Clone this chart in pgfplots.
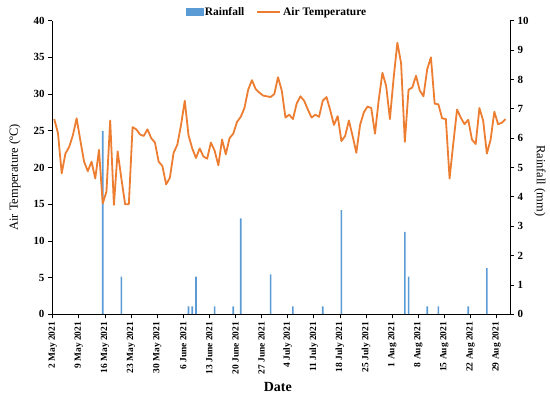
\documentclass[border=0pt]{standalone}
\usepackage{fontspec}
\setmainfont{Liberation Serif}
\usepackage{pgfplots}
\pgfplotsset{compat=1.18}
\definecolor{rainblue}{HTML}{5B9BD5}
\definecolor{temporange}{HTML}{ED7D31}
\begin{document}
\begin{tikzpicture}
\path[use as bounding box] (-52bp,-86.7bp) rectangle (498bp,314.3bp);
\pgfplotsset{
  common/.style={
    scale only axis, width=458bp, height=293.6bp,
    xmin=-0.2, xmax=122.6,
    at={(0,0)}, anchor=south west,
    axis line style={-, line width=0.9pt, black},
    tick style={line width=0.8pt, black},
    tick align=outside, major tick length=4bp,
    /pgf/number format/assume math mode=true,
    yticklabel style={font=\bfseries\fontsize{11}{12}\selectfont},
  }
}
\begin{axis}[common,
  hide x axis,
  axis y line*=right,
  ymin=0, ymax=10, ytick={0,1,...,10},
  ylabel={Rainfall (mm)},
  every axis y label/.style={at={(axis description cs:1.0655,0.455)}, anchor=center, rotate=-90, font=\fontsize{12.5}{14}\selectfont},
]
\addplot[ybar, bar width=1.6bp, bar shift=0pt, fill=rainblue, draw=none] coordinates {
(13.4,6.25) (18.4,1.28) (36.4,0.27) (37.4,0.27) (38.4,1.28) (43.4,0.27)
(48.4,0.27) (50.4,3.27) (58.4,1.36) (64.4,0.27) (72.4,0.27) (77.4,3.55)
(94.4,2.81) (95.4,1.28) (100.4,0.27) (103.4,0.27) (111.4,0.27) (116.4,1.57)
};
\end{axis}
\begin{axis}[common,
  axis x line*=bottom, axis y line*=left,
  ymin=0, ymax=40, ytick={0,5,...,40},
  xtick={0,7,...,119},
  xticklabels={2 May 2021,9 May 2021,16 May 2021,23 May 2021,30 May 2021,6 June 2021,13 June 2021,20 June 2021,27 June 2021,4 July 2021,11 July 2021,18 July 2021,25 July 2021,1 Aug 2021,8 Aug 2021,15 Aug 2021,22 Aug 2021,29 Aug 2021},
  xticklabel style={rotate=90, anchor=east, font=\bfseries\fontsize{9.5}{10}\selectfont},
  xlabel={Date},
  every axis x label/.style={at={(axis description cs:0.493,-0.248)}, anchor=center, font=\bfseries\fontsize{14}{15}\selectfont},
  ylabel={Air Temperature (ºC)},
  every axis y label/.style={at={(axis description cs:-0.081,0.466)}, anchor=center, rotate=90, font=\fontsize{12.5}{14}\selectfont},
  legend style={at={(axis description cs:0.491,1.0296)}, anchor=center, draw=none, fill=none,
    legend columns=2, font=\bfseries\fontsize{11.5}{13}\selectfont,
    /tikz/every even column/.append style={column sep=10bp}},
]
\addlegendimage{legend image code/.code={\fill[rainblue] (0bp,-3.5bp) rectangle (17bp,3.5bp);}}
\addlegendentry{Rainfall}
\addplot[temporange, line width=1.8bp, line join=round, no marks,
  legend image code/.code={\draw[temporange, line width=1.8bp] (0bp,0bp) -- (23bp,0bp);}] coordinates {
(0.4,26.6) (1.4,24.7) (2.4,19.2) (3.4,21.9) (4.4,22.8) (5.4,24.4) (6.4,26.7) (7.4,23.7)
(8.4,20.8) (9.4,19.5) (10.4,20.8) (11.4,18.5) (12.4,22.4) (13.4,15.1) (14.4,16.7) (15.4,26.4)
(16.4,14.9) (17.4,22.2) (18.4,18.5) (19.4,15.0) (20.4,15.0) (21.4,25.5) (22.4,25.2) (23.4,24.5)
(24.4,24.3) (25.4,25.2) (26.4,24.0) (27.4,23.4) (28.4,20.8) (29.4,20.2) (30.4,17.7) (31.4,18.6)
(32.4,22.0) (33.4,23.1) (34.4,25.8) (35.4,29.1) (36.4,24.4) (37.4,22.6) (38.4,21.3) (39.4,22.6)
(40.4,21.5) (41.4,21.2) (42.4,23.4) (43.4,22.3) (44.4,20.3) (45.4,23.8) (46.4,21.8) (47.4,24.0)
(48.4,24.6) (49.4,26.2) (50.4,26.9) (51.4,28.1) (52.4,30.6) (53.4,31.9) (54.4,30.7) (55.4,30.2)
(56.4,29.8) (57.4,29.7) (58.4,29.6) (59.4,30.0) (60.4,32.3) (61.4,30.5) (62.4,26.8) (63.4,27.2)
(64.4,26.6) (65.4,28.7) (66.4,29.7) (67.4,29.1) (68.4,27.9) (69.4,26.8) (70.4,27.2) (71.4,26.9)
(72.4,29.1) (73.4,29.6) (74.4,27.8) (75.4,25.8) (76.4,27.0) (77.4,23.6) (78.4,24.3) (79.4,26.4)
(80.4,24.3) (81.4,22.0) (82.4,25.8) (83.4,27.5) (84.4,28.3) (85.4,28.1) (86.4,24.6) (87.4,29.2)
(88.4,32.9) (89.4,31.1) (90.4,26.6) (91.4,32.2) (92.4,37.0) (93.4,34.2) (94.4,23.5) (95.4,30.6)
(96.4,30.9) (97.4,32.5) (98.4,30.5) (99.4,29.7) (100.4,33.4) (101.4,35.0) (102.4,28.7) (103.4,28.6)
(104.4,26.7) (105.4,26.6) (106.4,18.5) (107.4,23.3) (108.4,27.9) (109.4,26.8) (110.4,25.9) (111.4,26.5)
(112.4,23.8) (113.4,23.2) (114.4,28.1) (115.4,26.4) (116.4,21.9) (117.4,23.8) (118.4,27.6) (119.4,25.9)
(120.4,26.1) (121.4,26.6)
};
\addlegendentry{Air Temperature}
\end{axis}
\end{tikzpicture}
\end{document}
